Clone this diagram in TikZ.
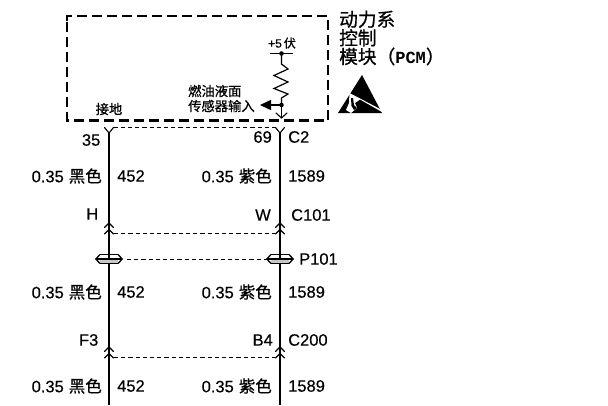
\documentclass[tikz,border=0pt]{standalone}
\usepackage{fontspec}
\setmainfont[FakeBold=0.35]{Liberation Sans}
\setmonofont{Liberation Mono}
\newfontfamily\cjk[FakeBold=0.7]{Noto Sans CJK SC}
\usetikzlibrary{arrows.meta}
\tikzset{
  wire/.style={line width=1.3pt,black},
  frame/.style={line width=2.4pt,dash pattern=on 9.6pt off 5.4pt},
  link/.style={line width=0.8pt,dash pattern=on 4.2pt off 3pt},
  lbl/.style={inner sep=0pt,font=\fontsize{16.5}{16.5}\selectfont},
  small/.style={inner sep=0pt,font=\fontsize{13.3}{15}\selectfont\cjk,align=left},
  chev/.style={line width=1.1pt,line cap=round},
}
\newcommand{\pinTop}[1]{\draw[chev] (#1)++(-4.5,-5.5) -- (#1) -- ++(4.5,-5.5);}
\newcommand{\pinBot}[1]{%
  \draw[chev] (#1)++(-4.5,4.5) -- (#1) -- ++(4.5,4.5);
  \draw[chev] (#1)++(-4.5,11) -- ++(4.5,-4.5) -- ++(4.5,4.5);}
\newcommand{\splice}[1]{%
  \fill[gray!45] (#1)++(-9,0) rectangle ++(18,4);
  \draw[line width=1.6pt] (#1)++(-9,-4.5) -- ++(18,0) (#1)++(-9,4.5) -- ++(18,0);
  \draw[line width=1.3pt] (#1)++(-9,-4.5) -- ++(-4.2,4.5) -- ++(4.2,4.5)
    (#1)++(9,-4.5) -- ++(4.2,4.5) -- ++(-4.2,4.5);
  \draw[line width=1.4pt] (#1)++(-13,0) -- ++(26,0);}
\begin{document}
\begin{tikzpicture}[x=1pt,y=-1pt]
\useasboundingbox (0,0) rectangle (608,405);
% module frame
\draw[frame] (67,21) -- (67,16) -- (328,16) -- (328,120.5) -- (67,120.5) -- cycle;
% coordinates
\coordinate (lA) at (109,133);  \coordinate (rA) at (280,133);
\coordinate (lB) at (109,223);  \coordinate (rB) at (280,223);
\coordinate (lS) at (109,259);  \coordinate (rS) at (280,259);
\coordinate (lC) at (109,347);  \coordinate (rC) at (280,347);
\coordinate (lE) at (109,405);  \coordinate (rE) at (280,405);
% wires
\draw[wire] (lA) -- (lB);
\draw[wire] ([yshift=6.5]lB) -- (lS) -- (lC);
\draw[wire] ([yshift=6.5]lC) -- (lE);
\draw[wire] (rA) -- (rB);
\draw[wire] ([yshift=6.5]rB) -- (rS) -- (rC);
\draw[wire] ([yshift=6.5]rC) -- (rE);
% pins
\pinTop{lA}\pinTop{rA}
\pinBot{lB}\pinBot{rB}
\pinBot{lC}\pinBot{rC}
\splice{lS}\splice{rS}
% connector dashes
\draw[link] (113.5,127.5) -- (275.5,127.5);
\draw[link] (114,233) -- (275,233);
\draw[link] (127,259.5) -- (267,259.5);
\draw[link] (114,357) -- (275,357);
% supply and resistor
\coordinate (vcc) at (281.5,53.5);
\coordinate (tap) at (281.5,105);
\coordinate (pinin) at (281.5,118);
\coordinate (arr) at (260,105);
\draw[line width=1.2pt] (270,53.5) -- (293,53.5);
\fill (vcc) circle (2.3pt);
\draw[line width=1.2pt] (vcc) -- (281.5,64) -- (288,69) -- (274,75.5) -- (288,82) -- (274,88.5) -- (288,94) -- (281.5,98) -- (tap);
\fill (tap) circle (2.3pt);
\draw[line width=1.2pt] (tap) -- (pinin);
\draw[chev] (276,113) -- (pinin) -- (287,113);
\draw[line width=1.5pt,-{Triangle[length=11pt,width=10pt]}] (tap) -- (arr);
% labels in the module
\node[inner sep=0pt,font=\fontsize{12}{12}\selectfont] (v5) at (282,43) {+5\,{\cjk 伏}};
\node[small,anchor=west] (sens) at (188,98.5) {燃油液面\\传感器输入};
\node[small,anchor=west] (gnd) at (95.5,109) {接地};
\node[inner sep=0pt,align=left,anchor=north west,font=\fontsize{18.7}{18.6}\selectfont\cjk] (pcm) at (339,10.5) {动力系\\控制\\模块（{\bfseries\ttfamily\fontsize{17}{17}\selectfont PCM}）};
% ESD symbol
\fill (362,75) -- (382,113) -- (338,113) -- cycle;
\fill[white] (349.5,93) -- (382,110) -- (382,112) -- (360,99.5) -- (355,103) -- (357,108) -- (351,113) -- (346,110) -- (349,103) -- cycle;
\fill (351,98) -- (353,98) -- (354,105) -- (357,108) -- (354,110) -- (351.5,106) -- cycle;
% wire labels
\foreach \y/\n in {176/a,292/b,386/c}{
  \node[lbl,anchor=east] (cl\n) at (102,\y) {0.35\hspace{5pt}{\cjk 黑色}};
  \node[lbl,anchor=west] (nl\n) at (117,\y) {452};
  \node[lbl,anchor=east] (cr\n) at (272,\y) {0.35\hspace{5pt}{\cjk 紫色}};
  \node[lbl,anchor=west] (nr\n) at (288,\y) {1589};
}
\node[lbl,anchor=east] (p35) at (100.5,140) {35};
\node[lbl,anchor=east] (p69) at (272,137) {69};
\node[lbl,anchor=west] (c2) at (288,137) {C2};
\node[lbl,anchor=east] (pH) at (98.5,214) {H};
\node[lbl,anchor=east] (pW) at (271,215) {W};
\node[lbl,anchor=west] (c101) at (291,215) {C101};
\node[lbl,anchor=west] (p101) at (299,259) {P101};
\node[lbl,anchor=east] (pF) at (98.5,340) {F3};
\node[lbl,anchor=east] (pB) at (273,340) {B4};
\node[lbl,anchor=west] (c200) at (288,340) {C200};
\end{tikzpicture}
\end{document}
